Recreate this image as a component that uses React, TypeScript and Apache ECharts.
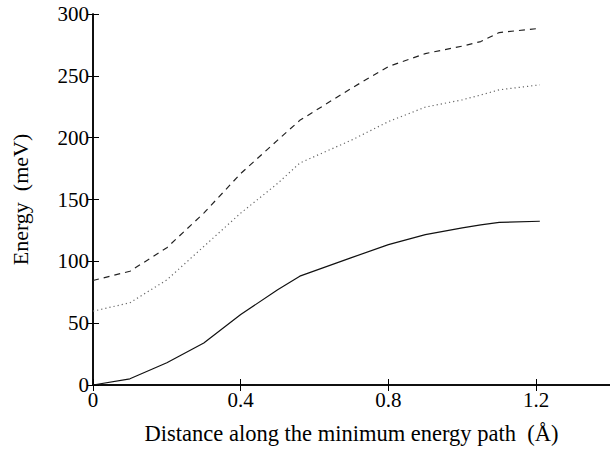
import React, { useEffect, useRef } from "react";
import * as echarts from "echarts";

const distance = [0, 0.1, 0.2, 0.3, 0.4, 0.5, 0.56, 0.7, 0.8, 0.9, 1.0, 1.05, 1.1, 1.21];
const dashedEnergy = [84.5, 92, 111, 139, 171, 198, 214, 240, 257.5, 268, 274, 277.7, 285, 288.4];
const dottedEnergy = [59.7, 66.5, 85, 112, 139, 163, 179.5, 198, 213, 224.7, 230.6, 234.5, 238.7, 242.7];
const solidEnergy = [0, 5, 18, 34, 57, 77, 88, 103, 113.5, 121.6, 127, 129.5, 131.5, 132.4];

const xTitle = "Distance along the minimum energy path  (Å)";
const yTitle = "Energy  (meV)";

const FONT = "Liberation Serif";

function pairs(ys: number[]) {
  return distance.map((x, i) => [x, ys[i]]);
}

export default function App() {
  const ref = useRef<HTMLDivElement>(null);
  useEffect(() => {
    if (!ref.current) return;
    const chart = echarts.init(ref.current, null, { renderer: "svg" });
    const axisLine = { show: true, lineStyle: { color: "#000", width: 1.5 } };
    const tick = { show: true, inside: true, length: 6, lineStyle: { color: "#000", width: 1 } };
    chart.setOption({
      animation: false,
      backgroundColor: "#fff",
      grid: { left: 93, top: 14, right: 0, bottom: 67 },
      xAxis: [
        {
          type: "value",
          min: 0,
          max: 1.4,
          interval: 0.4,
          position: "bottom",
          axisLine,
          axisTick: tick,
          splitLine: { show: false },
          axisLabel: {
            showMaxLabel: false,
            color: "#000",
            fontFamily: FONT,
            fontSize: 21,
            margin: 4,
            formatter: (v: number) => (v === 0 ? "0" : v.toFixed(1)),
          },
          name: xTitle,
          nameLocation: "middle",
          nameGap: 37,
          nameTextStyle: { color: "#000", fontFamily: FONT, fontSize: 22.5 },
        },
        {
          type: "value",
          min: 0,
          max: 1.4,
          interval: 0.4,
          position: "top",
          axisLine,
          axisTick: tick,
          splitLine: { show: false },
          axisLabel: { show: false },
        },
      ],
      yAxis: [
        {
          type: "value",
          min: 0,
          max: 300,
          interval: 50,
          position: "left",
          axisLine,
          axisTick: tick,
          splitLine: { show: false },
          axisLabel: { color: "#000", fontFamily: FONT, fontSize: 21, margin: 4 },
          name: yTitle,
          nameLocation: "middle",
          nameGap: 62,
          nameTextStyle: { color: "#000", fontFamily: FONT, fontSize: 22 },
        },
        {
          type: "value",
          min: 0,
          max: 300,
          interval: 50,
          position: "right",
          axisLine,
          axisTick: tick,
          splitLine: { show: false },
          axisLabel: { show: false },
        },
      ],
      series: [
        {
          type: "line",
          data: pairs(dashedEnergy),
          showSymbol: false,
          lineStyle: { color: "#222", width: 1.2, type: [6, 5] },
        },
        {
          type: "line",
          data: pairs(dottedEnergy),
          showSymbol: false,
          lineStyle: { color: "#666", width: 1.2, type: [1.2, 3] },
        },
        {
          type: "line",
          data: pairs(solidEnergy),
          showSymbol: false,
          lineStyle: { color: "#111", width: 1.2, type: "solid" },
        },
      ],
    });
    return () => chart.dispose();
  }, []);
  return (
    <div
      ref={ref}
      style={{ position: "fixed", left: 0, top: 0, width: 610, height: 452, background: "#fff" }}
    />
  );
}
